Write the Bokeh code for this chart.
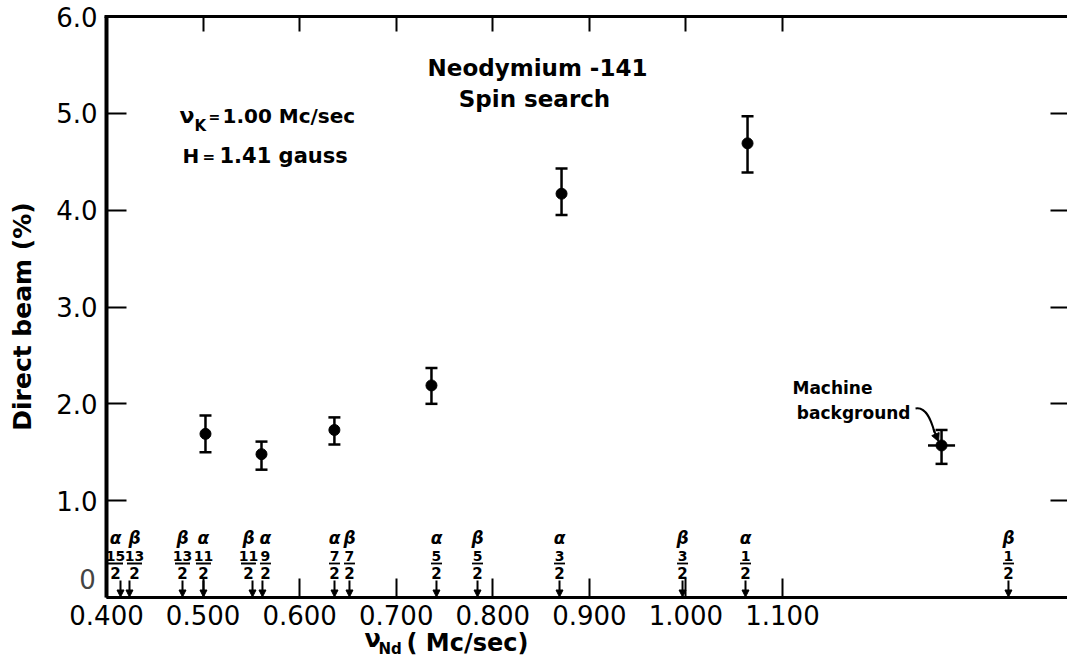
import numpy as np
from bokeh.plotting import figure
from bokeh.models import (ColumnDataSource, Range1d, LinearAxis, FixedTicker, Whisker,
                          TeeHead, Arrow, NormalHead, Label, CustomLabelingPolicy)
from bokeh.core.properties import value
from bokeh.embed import file_html
from bokeh.resources import INLINE

# ---------------- data ----------------
freq = [0.5025, 0.5605, 0.636, 0.7365, 0.8712, 1.0638]
beam = [1.69, 1.48, 1.73, 2.19, 4.17, 4.69]
beam_hi = [1.88, 1.61, 1.86, 2.37, 4.43, 4.97]
beam_lo = [1.50, 1.32, 1.58, 2.00, 3.95, 4.39]

bg_freq = [1.2647]
bg_beam = [1.57]
bg_hi = [1.73]
bg_lo = [1.38]
bg_ferr = [0.014]

line_freq = [0.4145, 0.4238, 0.4787, 0.5004, 0.5512, 0.5615, 0.6361, 0.6516,
             0.7417, 0.7842, 0.8691, 0.9965, 1.0617, 1.3340]
line_kind = ["α", "β", "β", "α", "β", "α", "α", "β", "α", "β", "α", "β", "α", "β"]
line_num = ["15", "13", "13", "11", "11", "9", "7", "7", "5", "5", "3", "3", "1", "1"]
line_den = ["2"] * 14

x_ticks = [0.4, 0.5, 0.6, 0.7, 0.8, 0.9, 1.0, 1.1]
x_tick_labels = ["0.400", "0.500", "0.600", "0.700", "0.800", "0.900", "1.000", "1.100"]
y_ticks = [0, 1, 2, 3, 4, 5, 6]
y_tick_labels = ["0", "1.0", "2.0", "3.0", "4.0", "5.0", "6.0"]

# ---------------- layout / style ----------------
W, H = 1067, 663          # canvas size
FL, FT, FB = 106, 16, 597  # pixel positions of x=0.4, y=6 and y=0
XA, YA0, YA1 = 0.4, 0.0, 6.0
PX_X = 965.7               # pixels per 1.0 Mc/sec
PX_Y = (FB - FT) / (YA1 - YA0)
x_start = XA - FL / PX_X
x_end = x_start + W / PX_X
y_end = YA1 + FT / PX_Y
y_start = y_end - H / PX_Y

def dx(px):
    return px / PX_X

def dy(px):
    return px / PX_Y

def X(px):
    return x_start + px / PX_X

def Y(py):
    return y_end - py / PX_Y

FONT = "DejaVu Sans"

p = figure(width=W, height=H, x_range=Range1d(x_start, x_end), y_range=Range1d(y_start, y_end),
           output_backend="svg", toolbar_location=None,
           x_axis_location=None, y_axis_location=None,
           min_border=0, min_border_left=0, min_border_right=0,
           min_border_top=0, min_border_bottom=0)
p.grid.visible = False
p.outline_line_color = None
p.background_fill_color = "white"
p.border_fill_color = "white"

common = dict(major_tick_out=0, minor_tick_in=0, minor_tick_out=0,
              major_tick_line_width=2, major_tick_line_color="black")

no_labels = CustomLabelingPolicy(code="""
try { for (const i of Array.from(indices)) indices.unset(i) } catch (e) {}
return indices
""")
skip_first = CustomLabelingPolicy(code="""
try { indices.unset(0) } catch (e) {}
return indices
""")

# bottom axis
xa = LinearAxis(fixed_location=YA0, bounds=(XA, x_end), ticker=FixedTicker(ticks=x_ticks),
                major_label_overrides={t: l for t, l in zip(x_ticks, x_tick_labels)},
                major_tick_in=19, axis_line_width=3, axis_line_color="black",
                major_label_text_font=FONT, major_label_text_font_size="26px",
                major_label_text_color="black", major_label_standoff=7, **common)
p.add_layout(xa, "below")

# left axis (the "0" is drawn separately, raised as in the original)
ya = LinearAxis(fixed_location=XA, bounds=(YA0, YA1), ticker=FixedTicker(ticks=y_ticks),
                major_label_overrides={t: l for t, l in zip(y_ticks, y_tick_labels)},
                major_label_policy=skip_first,
                major_tick_in=20, axis_line_width=4, axis_line_color="black",
                major_label_text_font=FONT, major_label_text_font_size="26px",
                major_label_text_color="black", major_label_standoff=9, **common)
p.add_layout(ya, "left")

# top axis (ticks only)
ta = LinearAxis(fixed_location=YA1, bounds=(XA - dx(2), x_end), ticker=FixedTicker(ticks=x_ticks[1:]),
                major_tick_in=15, axis_line_width=3, axis_line_color="black",
                major_label_policy=no_labels,
                major_label_text_font_size="0px", major_label_standoff=0, **common)
p.add_layout(ta, "above")

# right axis (ticks only, its line lies beyond the picture)
ra = LinearAxis(fixed_location=x_end, bounds=(YA0, YA1), ticker=FixedTicker(ticks=y_ticks[1:-1]),
                major_tick_in=17, axis_line_color=None,
                major_label_policy=no_labels,
                major_label_text_font_size="0px", major_label_standoff=0, **common)
p.add_layout(ra, "right")

p.add_layout(Label(x=X(87), y=Y(578), text=y_tick_labels[0], text_font=FONT,
                   text_font_size="26px", text_align="center", text_baseline="middle"))

# ---------------- data points ----------------
def tee():
    return TeeHead(size=12, line_width=2.5, line_color="black")

src = ColumnDataSource(dict(x=freq, y=beam, hi=beam_hi, lo=beam_lo))
p.add_layout(Whisker(source=src, base="x", upper="hi", lower="lo", dimension="height",
                     line_width=2.5, line_color="black", upper_head=tee(), lower_head=tee()))
p.scatter("x", "y", source=src, size=11, color="black")

bsrc = ColumnDataSource(dict(x=bg_freq, y=bg_beam, hi=bg_hi, lo=bg_lo,
                             x0=list(np.array(bg_freq) - np.array(bg_ferr)),
                             x1=list(np.array(bg_freq) + np.array(bg_ferr))))
p.add_layout(Whisker(source=bsrc, base="x", upper="hi", lower="lo", dimension="height",
                     line_width=2.5, line_color="black", upper_head=tee(), lower_head=tee()))
p.segment(x0="x0", x1="x1", y0="y", y1="y", source=bsrc, line_width=2.5, color="black")
p.scatter("x", "y", source=bsrc, size=11, color="black")

# ---------------- resonance markers ----------------
shift_px = np.array([-5, 5, 0, 0, -4, 3, 0, 0, 0, 0, 0, 0, 0, 0])
lf = np.array(line_freq)
lx = lf + dx(shift_px)
bar_w = np.array([15 if len(n) > 1 else 11 for n in line_num])
msrc = ColumnDataSource(dict(x=lf, lx=lx, kind=line_kind, num=line_num, den=line_den,
                             bx0=lx - dx(bar_w / 2), bx1=lx + dx(bar_w / 2),
                             ys=[YA0 + dy(17)] * len(lf), ye=[YA0 + dy(0.5)] * len(lf)))
txt = dict(source=msrc, text_font=value(FONT), text_align="center",
           text_baseline="middle", color="black")
p.text(x="lx", y=YA0 + dy(60), text="kind", text_font_size="17px",
       text_font_style="bold italic", **txt)
p.text(x="lx", y=YA0 + dy(42), text="num", text_font_size="14px", text_font_style="bold", **txt)
p.segment(x0="bx0", x1="bx1", y0=YA0 + dy(34), y1=YA0 + dy(34), source=msrc,
          line_width=1.8, color="black")
p.text(x="lx", y=YA0 + dy(25), text="den", text_font_size="15px", text_font_style="bold", **txt)
p.add_layout(Arrow(source=msrc, x_start="x", y_start="ys", x_end="x", y_end="ye",
                   line_width=2, line_color="black",
                   end=NormalHead(size=7, fill_color="black", line_color="black")))

# ---------------- texts ----------------
def lab(px, py, text, size, align="left", baseline="middle", style="bold", angle=0):
    p.add_layout(Label(x=X(px), y=Y(py), text=text, text_font=FONT, text_font_size=size,
                       text_font_style=style, text_align=align, text_baseline=baseline,
                       angle=angle, text_color="black"))

lab(537, 67, "Neodymium -141", "23px", align="center")
lab(534, 98, "Spin search", "23px", align="center")

lab(179, 115, "ν", "22px")
lab(194, 125, "K", "15px")
lab(208, 116, "=", "14px")
lab(222, 115, "1.00 Mc/sec", "20px")
lab(182, 155, "H", "20px")
lab(202, 156, "=", "15px")
lab(219, 155, "1.41 gauss", "21px")

lab(872, 387, "Machine", "17px", align="right", baseline="alphabetic")
lab(910, 412, "background", "17px", align="right", baseline="alphabetic")

# curved leader to the machine background point
cx, cy = bg_freq[0], bg_beam[0]
p.bezier(x0=[cx - dx(26)], y0=[cy + dy(37)], x1=[cx - dx(7)], y1=[cy + dy(13)],
         cx0=[cx - dx(15)], cy0=[cy + dy(39)], cx1=[cx - dx(10)], cy1=[cy + dy(24)],
         line_width=2, line_color="black")
p.add_layout(Arrow(x_start=cx - dx(8), y_start=cy + dy(16), x_end=cx - dx(3), y_end=cy + dy(4),
                   line_width=2, line_color="black",
                   end=NormalHead(size=8, fill_color="black", line_color="black")))

# axis titles
lab(22, 316, "Direct beam (%)", "25px", align="center", angle=np.pi / 2)
lab(364, 638, "ν", "24px")
lab(378, 648, "Nd", "15px")
lab(406, 642, "( Mc/sec)", "24px")

open("out.html", "w").write(file_html(p, INLINE))
